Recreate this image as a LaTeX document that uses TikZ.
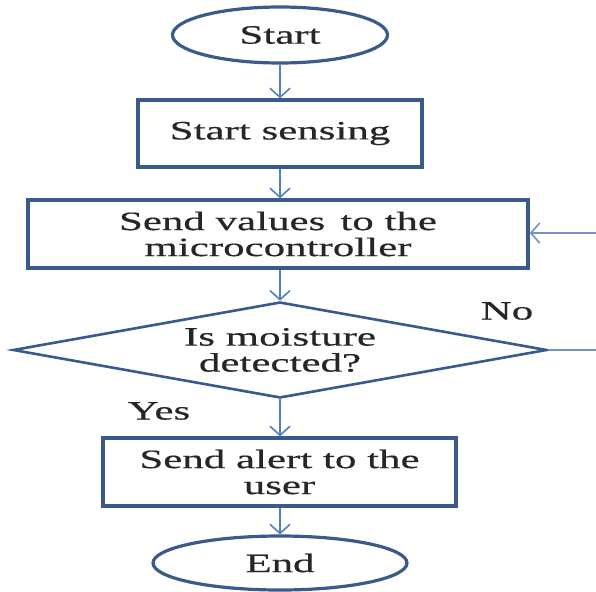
\documentclass[tikz,border=0pt]{standalone}
\usepackage{fontspec}
\setmainfont{Liberation Serif}[FakeStretch=1.62,FakeBold=0.5]
\usetikzlibrary{shapes.geometric,arrows.meta}
\definecolor{boxblue}{HTML}{3A5A8C}
\definecolor{arrblue}{HTML}{5080C0}
\definecolor{fbblue}{HTML}{6F93C8}
\tikzset{
  txt/.style={font=\fontsize{26.5}{26}\selectfont, align=center, text=black!85},
  procbox/.style={txt, draw=boxblue, line width=3.4pt, rectangle, inner sep=0pt},
  termnode/.style={txt, draw=boxblue, line width=3.2pt, ellipse, inner sep=0pt},
  decnode/.style={txt, draw=boxblue, line width=2.6pt, diamond, aspect=5.56, inner sep=0pt},
  flow/.style={draw=arrblue, line width=1.8pt, -{Straight Barb[length=9pt,width=20pt,line width=1.6pt]}},
  lbl/.style={font=\fontsize{26.5}{26}\selectfont, text=black!85, inner sep=0pt}
}
\begin{document}
\begin{tikzpicture}[x=1pt,y=-1pt]
\useasboundingbox (0,0) rectangle (596,591);
\fill[white] (0,0) rectangle (596,591);
\node[termnode, minimum width=215pt, minimum height=56pt] (start) at (280,35) {Start};
\node[procbox, minimum width=284pt, minimum height=67pt] (sense) at (280,133.5) {Start sensing};
\node[procbox, minimum width=500pt, minimum height=68pt] (send) at (278,234) {Send values\, to the\\microcontroller};
\node[decnode, minimum width=534pt, minimum height=96pt] (dec) at (280,350) {Is moisture\\detected?};
\node[procbox, minimum width=353pt, minimum height=68pt] (alert) at (279.5,472) {Send alert to the\\user};
\node[termnode, minimum width=254pt, minimum height=54pt] (end) at (280,563) {End};
\node[lbl] (no) at (507,311) {No};
\node[lbl] (yes) at (159,411) {Yes};
\coordinate (fbr) at (615,350);
\coordinate (fbt) at (615,233);
\draw[flow] (start.south) -- (sense.north);
\draw[flow] (sense.south) -- (send.north -| sense.south);
\draw[flow] (send.south -| dec.north) -- (dec.north);
\draw[flow] (dec.south) -- (alert.north -| dec.south);
\draw[flow] (alert.south -| end.north) -- (end.north);
\draw[draw=fbblue, line width=1.6pt, -{Straight Barb[length=9pt,width=20pt,line width=1.6pt]}] (dec.east) -- (fbr) -- (fbt) -- (send.east |- fbt);
\end{tikzpicture}
\end{document}
